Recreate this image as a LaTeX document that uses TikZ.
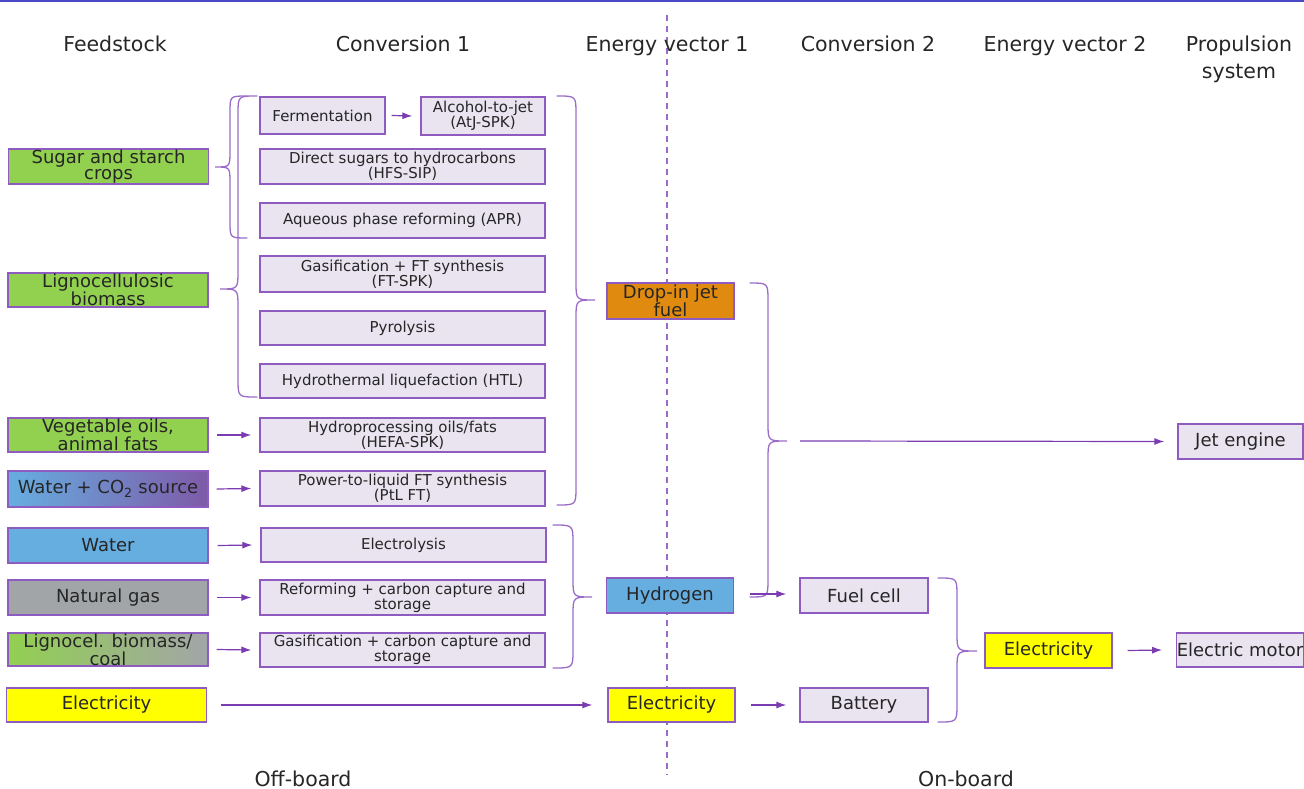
\documentclass[tikz,border=0pt]{standalone}
\usepackage{fontspec}
\setmainfont{DejaVu Sans}
\usetikzlibrary{arrows.meta}
\definecolor{txt}{HTML}{262626}
\definecolor{bord}{HTML}{8E5CC0}
\definecolor{boxfill}{HTML}{E9E4F0}
\definecolor{brc}{HTML}{9A6CC8}
\definecolor{arrc}{HTML}{7A3CB0}
\definecolor{gr}{HTML}{92D050}
\definecolor{gy}{HTML}{A2A5A8}
\definecolor{bl}{HTML}{66AEE0}
\definecolor{pu}{HTML}{7E5AA8}
\definecolor{yl}{HTML}{FFFF00}
\definecolor{og}{HTML}{E08A10}
\definecolor{topline}{HTML}{4A4AC8}
\newcommand\mybrace[7]{%
  \draw[brc,line width=1.3pt,line cap=round]
  (#1,#4) .. controls (#2,#4) .. ({#2},{#4+#7}) -- ({#2},{#5-#7})
  .. controls (#2,#5) .. (#3,#5) .. controls (#2,#5) .. ({#2},{#5+#7})
  -- ({#2},{#6-#7}) .. controls (#2,#6) .. (#1,#6);}
\tikzset{
  base/.style={draw=bord,line width=1.3pt,inner sep=0pt,align=center,text=txt},
  cbox/.style={base,fill=boxfill,font=\fontsize{15}{15}\selectfont},
  fbox/.style={base,font=\fontsize{18}{16}\selectfont,minimum width=200pt},
  vbox/.style={base,font=\fontsize{18}{16}\selectfont,minimum width=127pt},
  c2box/.style={base,fill=boxfill,font=\fontsize{18}{16}\selectfont,minimum width=128pt},
  hdr/.style={text=txt,font=\fontsize{20.5}{27}\selectfont,align=center,anchor=base,inner sep=0pt},
  arr/.style={arrc,line width=1.2pt,-{Latex[length=10pt,width=7pt]}}
}
\begin{document}
\begin{tikzpicture}[x=1pt,y=-1pt]
\useasboundingbox (0,0) rectangle (1304,789);
\draw[topline,line width=1.6pt] (0,1) -- (1304,1);
\draw[brc,line width=1.1pt,dash pattern=on 6pt off 5pt] (667,15) -- (667,775);
% headers
\node[hdr] (h1) at (115,52) {Feedstock};
\node[hdr] (h2) at (403,52) {Conversion 1};
\node[hdr] (h3) at (667,52) {Energy vector 1};
\node[hdr] (h4) at (868,52) {Conversion 2};
\node[hdr] (h5) at (1065,52) {Energy vector 2};
\node[hdr] (h6) at (1239,79) {Propulsion\\system};
\node[hdr] (off) at (303,786) {Off-board};
\node[hdr] (on) at (966,786) {On-board};
% feedstock
\node[fbox,fill=gr,minimum height=35pt] (sug) at (108.5,166.5) {Sugar and starch\\crops};
\node[fbox,fill=gr,minimum height=34pt] (lig) at (108,290) {Lignocellulosic\\biomass};
\node[fbox,fill=gr,minimum height=34pt] (veg) at (108,435) {Vegetable oils,\\animal fats};
\node[fbox,left color=bl,right color=pu,minimum height=36pt] (wco) at (108,489) {Water + CO\textsubscript{2} source};
\node[fbox,fill=bl,minimum height=35pt] (wat) at (108,545.5) {Water};
\node[fbox,fill=gy,minimum height=35pt] (ng) at (108,597.5) {Natural gas};
\node[fbox,left color=gr,right color=gy,minimum height=33pt] (lc) at (108,649.5) {Lignocel. biomass/\\coal};
\node[fbox,fill=yl,minimum height=34pt] (el0) at (106.5,705) {Electricity};
% conversion 1
\node[cbox,minimum width=125pt,minimum height=37pt] (fer) at (322.5,115.5) {Fermentation};
\node[cbox,minimum width=124pt,minimum height=38pt] (atj) at (483,116) {Alcohol-to-jet\\(AtJ-SPK)};
\node[cbox,minimum width=285pt,minimum height=35pt] (dir) at (402.5,166.5) {Direct sugars to hydrocarbons\\(HFS-SIP)};
\node[cbox,minimum width=285pt,minimum height=35pt] (apr) at (402.5,220.5) {Aqueous phase reforming (APR)};
\node[cbox,minimum width=285pt,minimum height=36pt] (gft) at (402.5,274) {Gasification + FT synthesis\\(FT-SPK)};
\node[cbox,minimum width=285pt,minimum height=34pt] (pyr) at (402.5,328) {Pyrolysis};
\node[cbox,minimum width=285pt,minimum height=34pt] (htl) at (402.5,381) {Hydrothermal liquefaction (HTL)};
\node[cbox,minimum width=285pt,minimum height=34pt] (hefa) at (402.5,435) {Hydroprocessing oils/fats\\(HEFA-SPK)};
\node[cbox,minimum width=285pt,minimum height=35pt] (ptl) at (402.5,488.5) {Power-to-liquid FT synthesis\\(PtL FT)};
\node[cbox,minimum width=285pt,minimum height=34pt] (ely) at (403.5,545) {Electrolysis};
\node[cbox,minimum width=285pt,minimum height=35pt] (ref) at (402.5,597.5) {Reforming + carbon capture and\\storage};
\node[cbox,minimum width=285pt,minimum height=34pt] (gcc) at (402.5,650) {Gasification + carbon capture and\\storage};
% energy vector 1
\node[vbox,fill=og,minimum height=36pt] (dij) at (670.5,301) {Drop-in jet\\fuel};
\node[vbox,fill=bl,minimum height=35pt] (hyd) at (670,595.5) {Hydrogen};
\node[vbox,fill=yl,minimum height=34pt] (el1) at (671.5,705) {Electricity};
% conversion 2
\node[c2box,minimum height=35pt] (fc) at (864,595.5) {Fuel cell};
\node[c2box,minimum height=34pt] (bat) at (864,705) {Battery};
% energy vector 2
\node[vbox,fill=yl,minimum height=35pt] (el2) at (1048.5,650.5) {Electricity};
% propulsion
\node[c2box,minimum width=125pt,minimum height=35pt] (je) at (1240.5,441.5) {Jet engine};
\node[c2box,minimum width=126pt,minimum height=34pt] (em) at (1240,650) {Electric motor};
% braces
\mybrace{247}{230}{215}{96}{167}{238}{16}
\mybrace{257}{238}{220}{96}{289}{397}{18}
\mybrace{557}{576}{595}{96}{300}{505}{18}
\mybrace{553}{573}{592}{525}{597}{668}{18}
\mybrace{750}{768}{787}{283}{441}{597}{18}
\mybrace{938}{957}{977}{578}{651}{722}{18}
% arrows
\draw[arr] ([xshift=6pt]fer.east) -- ([xshift=-8pt]atj.west);
\draw[arr] ([xshift=8pt]veg.east) -- ([xshift=-8pt]hefa.west);
\draw[arr] ([xshift=8pt]wco.east) -- ([xshift=-8pt]ptl.west);
\draw[arr] ([xshift=9pt]wat.east) -- ([xshift=-8pt]ely.west);
\draw[arr] ([xshift=8pt]ng.east) -- ([xshift=-8pt]ref.west);
\draw[arr] ([xshift=8pt]lc.east) -- ([xshift=-8pt]gcc.west);
\draw[arr] ([xshift=14pt]el0.east) -- ([xshift=-15pt]el1.west);
\draw[arr] ([xshift=15pt]el1.east) -- ([xshift=-13pt]bat.west);
\draw[arr] ([yshift=1.5pt,xshift=16pt]hyd.east) -- ([yshift=1.5pt,xshift=-13pt]fc.west);
\coordinate (js) at (800,441);
\draw[arr] (js) -- ([xshift=-13pt]je.west);
\draw[arr] ([xshift=15pt]el2.east) -- ([xshift=-14pt]em.west);
\end{tikzpicture}
\end{document}
